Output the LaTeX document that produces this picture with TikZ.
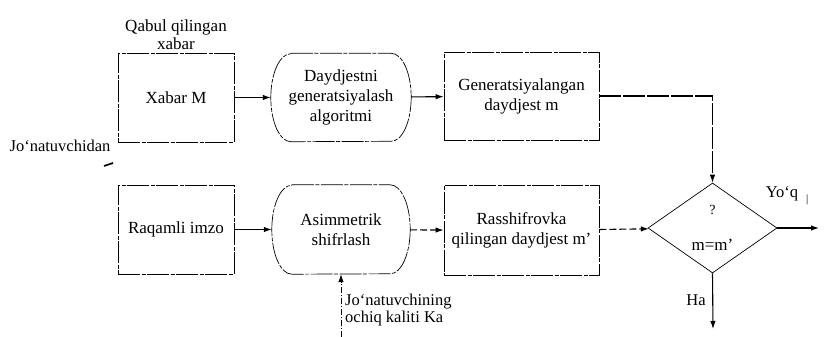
\documentclass[tikz,border=0pt]{standalone}
\usepackage{fontspec}
\setmainfont{Liberation Serif}
\usetikzlibrary{shapes.geometric,arrows.meta}

\begin{document}
\begin{tikzpicture}[x=1pt,y=-1pt,
        chiziq/.style={line width=0.7pt,
            dash pattern=on 22pt off 1.5pt on 4pt off 1.5pt},
        blok/.style={align=center,inner sep=2pt,
            font=\rmfamily\fontsize{17}{20}\selectfont},
        quti/.style={blok,draw,chiziq,rectangle},
        jarayon/.style={blok,rectangle},
        shart/.style={draw,diamond,aspect=1.43,line width=0.7pt,
            inner sep=0pt,align=center,
            minimum width=129pt,minimum height=90pt,
            font=\rmfamily\fontsize{17}{20}\selectfont},
        oqim/.style={line width=1.1pt,-{Latex[length=8pt,width=5.5pt]}},
        uzuq/.style={oqim,dash pattern=on 7pt off 3pt},
        izoh/.style={inner sep=0pt,align=left,
            font=\rmfamily\fontsize{16.5}{17}\selectfont}
    ]
        \useasboundingbox (0,0) rectangle (824,337);

        % yuqori qator
        \node[quti,minimum width=116pt,minimum height=89pt] (xabar) at (176,97.5) {Xabar M};
        \node[jarayon,minimum width=140pt,minimum height=88pt] (algo) at (341,97.5)
            {Daydjestni\\generatsiyalash\\algoritmi};
        \node[quti,minimum width=155pt,minimum height=88pt] (gen) at (521.5,96)
            {Generatsiyalangan\\daydjest m};

        % pastki qator
        \node[quti,minimum width=116pt,minimum height=89pt] (imzo) at (176,229.5) {Raqamli imzo};
        \node[jarayon,minimum width=138pt,minimum height=89pt] (asim) at (341,229.5)
            {Asimmetrik\\shifrlash};
        \node[quti,minimum width=155pt,minimum height=90pt] (rassh) at (521.5,230.5)
            {Rasshifrovka\\qilingan daydjest m'};
        \node[shart] (tenglik) at (712.5,228)
            {{\fontsize{14}{14}\selectfont ?}\\[16pt]m=m'};

        % yumaloq bloklar chegarasi
        \foreach \n/\r in {algo/44,asim/44.5}
            \draw[chiziq] ([xshift=20pt]\n.north west) -- ([xshift=-20pt]\n.north east)
                arc[start angle=90,end angle=-90,x radius=20pt,y radius=\r pt]
                -- ([xshift=20pt]\n.south west)
                arc[start angle=270,end angle=90,x radius=20pt,y radius=\r pt] -- cycle;

        % yozuvlar
        \node[izoh,align=center,font=\rmfamily\fontsize{17}{18}\selectfont] (qabul) at (176,35)
            {Qabul qilingan\\xabar};
        \node[izoh,anchor=east] (jonat) at ([xshift=-7pt,yshift=-4pt]xabar.south west)
            {Jo‘natuvchidan};
        \node[izoh,anchor=north west] (kalit) at (345,294)
            {Jo‘natuvchining\\ochiq kaliti Ka};
        \node[izoh] (yoq) at (787,196) {Yo‘q\hspace{8pt}\raisebox{-5pt}{\fontsize{11}{11}\selectfont|}};
        \node[izoh] (ha) at (696,300) {Ha};

        \coordinate (chiq) at (819,228);
        \coordinate (past) at (713,329);
        \coordinate (kirish) at (asim.south |- 0,337);

        % ulanishlar
        \draw[oqim] (xabar) -- (algo);
        \draw[oqim] (algo) -- (gen);
        \draw[oqim,dash pattern=on 22pt off 2pt] (gen.east) -| (tenglik.north);
        \draw[oqim] (imzo) -- (asim);
        \draw[uzuq] (asim) -- (rassh);
        \draw[uzuq] (rassh) -- (tenglik);
        \draw[oqim] (tenglik.east) -- (chiq);
        \draw[oqim] (tenglik.south) -- (past);
        \draw[oqim,line width=0.8pt,dash pattern=on 6pt off 2pt on 1pt off 2pt] (kirish) -- (asim.south);
        \draw[line width=1.6pt] (104,166) -- (113,163);
\end{tikzpicture}
\end{document}
